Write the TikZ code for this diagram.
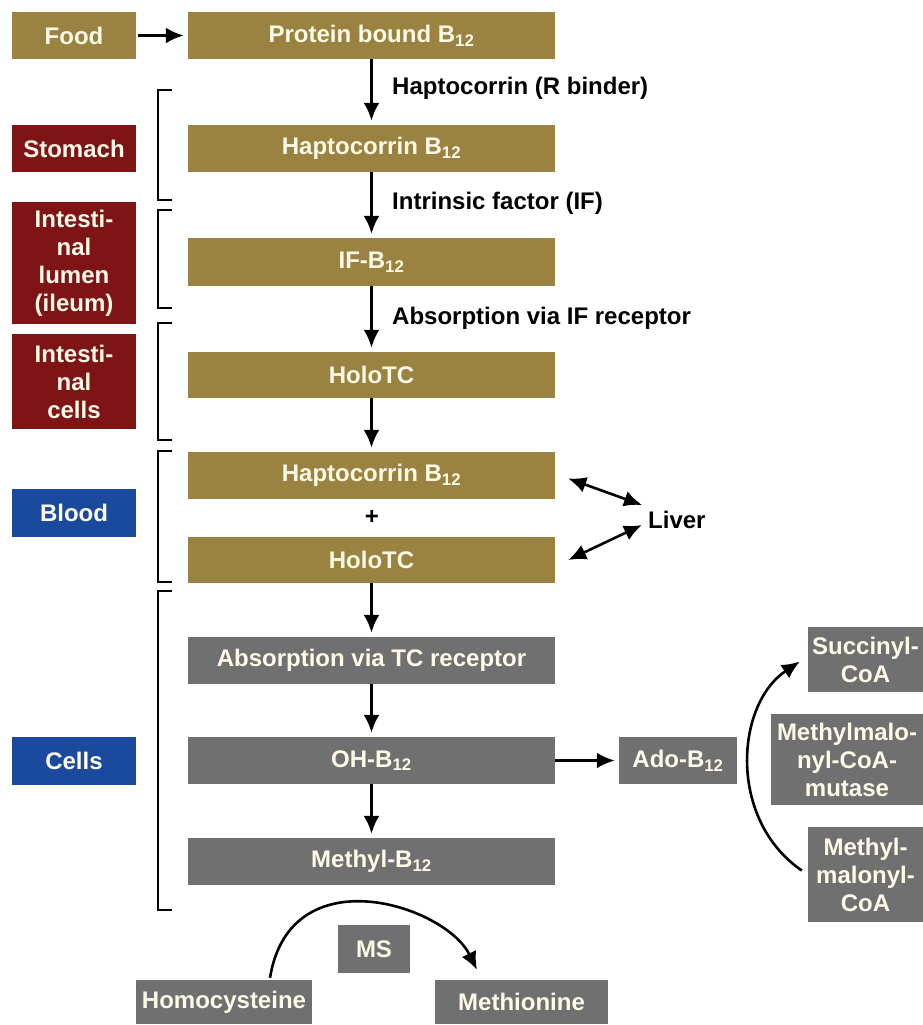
\documentclass[tikz,border=0pt]{standalone}
\usepackage{fontspec}
\setmainfont{Liberation Sans}
\usetikzlibrary{arrows.meta}
\definecolor{gold}{RGB}{154,130,64}
\definecolor{darkred}{RGB}{126,20,22}
\definecolor{darkblue}{RGB}{26,74,158}
\definecolor{slate}{RGB}{112,112,112}
\definecolor{cream}{RGB}{255,250,232}
\newcommand{\Bsub}{B\textsubscript{12}}
\tikzset{
  box/.style={inner sep=0pt, text=cream, align=center},
  goldbox/.style={box, fill=gold, minimum width=367pt, minimum height=47pt},
  greybox/.style={box, fill=slate, minimum width=367pt, minimum height=47pt},
  placebox/.style={box, minimum width=124pt},
  note/.style={inner sep=0pt, text=black},
  bigtip/.tip={Latex[length=18pt,width=16pt]},
  flow/.style={-bigtip, line width=3pt, shorten >=4pt},
  twoway/.style={bigtip-bigtip, line width=2.6pt},
  curvearrow/.style={-bigtip, line width=2.6pt},
  bracketline/.style={line width=1.8pt}
}
\begin{document}
\begin{tikzpicture} [x=1pt, y=-1pt, font=\fontsize{24}{28}\selectfont\bfseries]
	\useasboundingbox (0,0) rectangle (923,1025);
	% places
	\node [placebox, fill=gold, minimum height=47pt] (food) at (74,35.5) {Food};
	\node [placebox, fill=darkred, minimum height=47pt] (stomach) at (74,148.5) {Stomach};
	\node [placebox, fill=darkred, minimum height=122pt] (lumen) at (74,263) {Intesti-\\nal\\lumen\\(ileum)};
	\node [placebox, fill=darkred, minimum height=95pt] (icells) at (74,381.5) {Intesti-\\nal\\cells};
	\node [placebox, fill=darkblue, minimum height=48pt] (blood) at (74,513) {Blood};
	\node [placebox, fill=darkblue, minimum height=48pt] (cells) at (74,761) {Cells};
	% brackets
	\foreach \top/\bot in {90/200, 210/308, 323/440, 451/582, 591/910}
		\draw [bracketline] (172,\top) -| (158,\bot) -- (172,\bot);
	% main chain
	\node [goldbox] (protein) at (371.5,35.5) {Protein bound \Bsub};
	\node [goldbox] (hapto) at (371.5,148.5) {Haptocorrin \Bsub};
	\node [goldbox, minimum height=48pt] (ifb) at (371.5,262) {IF-\Bsub};
	\node [goldbox, minimum height=46pt] (holo) at (371.5,375) {HoloTC};
	\node [goldbox] (haptob) at (371.5,475.5) {Haptocorrin \Bsub};
	\node [note] (plus) at (372,517) {+};
	\node [goldbox, minimum height=46pt] (holob) at (371.5,560) {HoloTC};
	\node [greybox] (tcrec) at (371.5,660.5) {Absorption via TC receptor};
	\node [greybox] (ohb) at (371.5,760.5) {OH-\Bsub};
	\node [greybox] (methylb) at (371.5,861.5) {Methyl-\Bsub};
	% side reactions
	\node [note, anchor=west] (liver) at (648,520) {Liver};
	\node [box, fill=slate, minimum width=118pt, minimum height=47pt] (ado) at (678,760.5) {Ado-\Bsub};
	\node [box, fill=slate, minimum width=115pt, minimum height=65pt] (succ) at (865.5,659.5) {Succinyl-\\CoA};
	\node [box, fill=slate, minimum width=152pt, minimum height=91pt] (mutase) at (847,759.5) {Methylmalo-\\nyl-CoA-\\mutase};
	\node [box, fill=slate, minimum width=115pt, minimum height=95pt] (mmcoa) at (865.5,874.5) {Methyl-\\malonyl-\\CoA};
	\node [box, fill=slate, minimum width=72pt, minimum height=48pt] (ms) at (374,949) {MS};
	\node [box, fill=slate, minimum width=176pt, minimum height=44pt] (homocys) at (224,1002) {Homocysteine};
	\node [box, fill=slate, minimum width=173pt, minimum height=44pt] (methionine) at (521.5,1002) {Methionine};
	% enzyme labels
	\node [note, anchor=west] (labhc) at (392,88) {Haptocorrin (R binder)};
	\node [note, anchor=west] (labif) at (392,203) {Intrinsic factor (IF)};
	\node [note, anchor=west] (labrec) at (392,318) {Absorption via IF receptor};
	% arrows
	\draw [flow, shorten <=2pt] (food) -- (protein);
	\draw [flow] (protein) -- (hapto);
	\draw [flow] (hapto) -- (ifb);
	\draw [flow] (ifb) -- (holo);
	\draw [flow] (holo) -- (haptob);
	\draw [flow] (holob) -- (tcrec);
	\draw [flow] (tcrec) -- (ohb);
	\draw [flow] (ohb) -- (methylb);
	\draw [flow] (ohb) -- (ado);
	\draw [twoway] ([xshift=13pt,yshift=-3pt]haptob.east) -- ([xshift=-6pt,yshift=15pt]liver.west);
	\draw [twoway] ([xshift=13pt]holob.east) -- ([xshift=-6pt,yshift=-5pt]liver.west);
	\draw [curvearrow] ([xshift=-6pt,yshift=4pt]mmcoa.west) .. controls (728,820) and (735,705) .. ([xshift=-8pt,yshift=-2pt]succ.west);
	\draw [curvearrow] ([xshift=46pt,yshift=2pt]homocys.north) .. controls (290,855) and (445,905) .. ([xshift=-44.5pt,yshift=10pt]methionine.north);
\end{tikzpicture}
\end{document}
